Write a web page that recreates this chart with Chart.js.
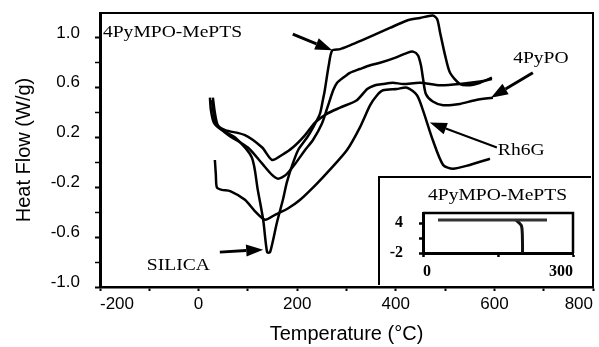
<!DOCTYPE html>
<html><head><meta charset="utf-8">
<script src="https://cdn.jsdelivr.net/npm/chart.js@4.4.1/dist/chart.umd.min.js"></script>
<style>
html,body{margin:0;padding:0;background:#fff;}
#wrap{position:relative;width:599px;height:347px;overflow:hidden;}
#main{position:absolute;left:0;top:0;}
#insetBox{position:absolute;left:378px;top:176px;width:211px;height:107px;background:#fff;border-left:2px solid #000;border-top:2px solid #000;}
#inset{position:absolute;left:0;top:0;}
</style></head>
<body>
<div id="wrap">
<canvas id="main" width="599" height="347" style="width:599px;height:347px"></canvas>
<div id="insetBox"><canvas id="inset" width="211" height="107" style="width:211px;height:107px"></canvas></div>
</div>
<script>
// ---- data (Temperature °C / Heat Flow W/g) ----
const meptsT = [23,25,31,47,74,108,120,131,139,145,159,171,179,191,202,220,232,246,252,256,264,271,287,307,331,354,388,423,449,475,484,490,500,510,530,550,571,595];
const meptsH = [0.52,0.42,0.32,0.26,0.20,0.04,-0.22,-0.46,-0.72,-0.72,-0.48,-0.30,-0.16,-0.01,0.10,0.20,0.28,0.39,0.50,0.58,0.78,0.90,0.91,0.94,0.98,1.02,1.08,1.14,1.16,1.18,1.15,1.04,0.86,0.72,0.63,0.62,0.64,0.68];
const pypoT = [29,33,39,60,100,129,149,161,177,196,216,232,250,262,273,281,293,307,327,348,368,398,423,435,445,451,455,461,475,496,530,561,597];
const pypoH = [0.52,0.40,0.30,0.22,0.12,-0.01,-0.10,-0.13,-0.10,-0.01,0.10,0.18,0.31,0.45,0.58,0.64,0.68,0.72,0.75,0.78,0.80,0.84,0.88,0.89,0.86,0.78,0.68,0.55,0.49,0.46,0.47,0.50,0.52];
const silicaT = [27,31,37,54,94,129,149,169,191,216,236,260,287,321,342,358,374,394,415,449,490,530,571,595];
const silicaH = [0.50,0.38,0.30,0.26,0.22,0.12,0.02,0.06,0.12,0.22,0.32,0.39,0.44,0.50,0.59,0.62,0.63,0.64,0.63,0.64,0.62,0.63,0.65,0.67];
const rh6gT = [33,35,37,47,64,94,114,135,155,181,206,240,266,301,327,348,362,374,402,423,443,455,475,496,516,550,591];
const rh6gH = [0.02,-0.10,-0.20,-0.22,-0.23,-0.30,-0.39,-0.46,-0.42,-0.37,-0.30,-0.17,-0.06,0.10,0.28,0.46,0.54,0.58,0.59,0.60,0.54,0.42,0.18,-0.02,-0.05,-0.02,0.03];

// inset (4PyMPO-MePTS, wide range)
const insetAT = [30,248];
const insetAH = [4.6,4.6];
const insetBT = [186,197,199,199];
const insetBH = [4.6,3.4,0,-2];

// tick labels
const xTickLabels = [-200,0,200,400,600,800];
const yTickLabels = [-1.0,-0.6,-0.2,0.2,0.6,1.0];
const insetXTickLabels = [0,300];
const insetYTickLabels = [-2,4];
const insetYTickMarks = [-2,1,4];

// annotation texts and anchors (data units)
const labelTexts = ['4PyMPO-MePTS','4PyPO','Rh6G','SILICA'];
const labelT = [-194,638,607,-105];
const labelH = [1.01,0.80,0.06,-0.86];
const arrowTailT = [191,678,605,43];
const arrowTailH = [1.03,0.72,0.12,-0.72];
const arrowTipT = [271,593,469,131];
const arrowTipH = [0.90,0.52,0.32,-0.70];
const arrowBody = [3,3,2,3];

const toPts = (T,H) => T.map((t,i)=>({x:t,y:H[i]}));
const line = (T,H,w,c) => ({data:toPts(T,H),showLine:true,borderColor:c||'#000',borderWidth:w||2.5,pointRadius:0,tension:0.25,fill:false});

function arrow(ctx,x0,y0,x1,y1,lw,hl,hw){
  const a=Math.atan2(y1-y0,x1-x0);
  const bx=x1-hl*Math.cos(a), by=y1-hl*Math.sin(a);
  ctx.lineWidth=lw; ctx.beginPath(); ctx.moveTo(x0,y0); ctx.lineTo(bx,by); ctx.stroke();
  ctx.beginPath(); ctx.moveTo(x1,y1);
  ctx.lineTo(bx+hw/2*Math.sin(a), by-hw/2*Math.cos(a));
  ctx.lineTo(bx-hw/2*Math.sin(a), by+hw/2*Math.cos(a));
  ctx.closePath(); ctx.fill();
}
function stretchText(ctx,txt,x,y,sx){
  ctx.save(); ctx.translate(x,y); ctx.scale(sx,1); ctx.fillText(txt,0,0); ctx.restore();
}

const frame = {
  id:'frame',
  afterDraw(chart,args,opts){
    const {ctx,chartArea:a}=chart;
    ctx.save(); ctx.strokeStyle='#000'; ctx.lineWidth=opts.lw||2;
    ctx.beginPath(); ctx.moveTo(a.left,a.top); ctx.lineTo(a.right,a.top); ctx.lineTo(a.right,a.bottom); ctx.stroke();
    ctx.restore();
  }
};
const notes = {
  id:'notes',
  afterDatasetsDraw(chart){
    const {ctx,scales:{x,y}}=chart;
    ctx.save(); ctx.fillStyle='#000'; ctx.strokeStyle='#000';
    ctx.font='17px "Liberation Serif", "Times New Roman", serif'; ctx.textBaseline='alphabetic'; ctx.textAlign='left';
    labelTexts.forEach((t,i)=>stretchText(ctx,t,x.getPixelForValue(labelT[i]),y.getPixelForValue(labelH[i]),1.15));
    arrowTailT.forEach((t,i)=>arrow(ctx,x.getPixelForValue(t),y.getPixelForValue(arrowTailH[i]),x.getPixelForValue(arrowTipT[i]),y.getPixelForValue(arrowTipH[i]),arrowBody[i],17,12));
    ctx.restore();
  }
};

const sansTick = {family:'"Liberation Sans", Arial, sans-serif', size:17};
const sansTitle = {family:'"Liberation Sans", Arial, sans-serif', size:20};

new Chart(document.getElementById('main'),{
  type:'scatter',
  data:{datasets:[line(meptsT,meptsH),line(pypoT,pypoH),line(silicaT,silicaH),line(rh6gT,rh6gH)]},
  options:{
    responsive:false, animation:false, devicePixelRatio:1,
    layout:{padding:{left:0,right:6,top:13,bottom:0}},
    plugins:{legend:{display:false},tooltip:{enabled:false},frame:{lw:2}},
    scales:{
      x:{type:'linear',min:-200,max:800,
        afterFit(s){s.height=60;s.paddingLeft=0;s.paddingRight=0;},
        ticks:{stepSize:100,autoSkip:false,maxRotation:0,align:'inner',padding:3,font:sansTick,color:'#000',
          callback:v=>xTickLabels.includes(v)?String(v):''},
        grid:{drawOnChartArea:false,drawTicks:true,tickLength:4,tickColor:'#000',tickWidth:2},
        border:{display:true,color:'#000',width:2.5},
        title:{display:true,text:'Temperature (°C)',font:sansTitle,color:'#000',padding:{top:0,bottom:1}}},
      y:{type:'linear',min:-1,max:1.2,
        afterFit(s){s.width=100;s.paddingTop=0;s.paddingBottom=0;},
        ticks:{stepSize:0.2,autoSkip:false,padding:15,labelOffset:-5,font:sansTick,color:'#000',
          callback:v=>{const r=Math.round(v*10)/10;return yTickLabels.includes(r)?r.toFixed(1):'';}},
        grid:{drawOnChartArea:false,drawTicks:true,tickLength:5,
          tickColor:c=>Math.round(c.tick.value*10)/10>1.1?'rgba(0,0,0,0)':'#000',
          tickWidth:c=>yTickLabels.includes(Math.round(c.tick.value*10)/10)?2:1.5},
        border:{display:true,color:'#000',width:3},
        title:{display:true,text:'Heat Flow (W/g)',font:sansTitle,color:'#000',padding:{top:12,bottom:0}}}
    }
  },
  plugins:[frame,notes]
});

const insetNotes = {
  id:'insetNotes',
  afterDraw(chart){
    const {ctx,chartArea:a}=chart;
    ctx.save(); ctx.strokeStyle='#000'; ctx.lineWidth=2.5;
    ctx.beginPath(); ctx.moveTo(a.left,a.top); ctx.lineTo(a.right,a.top); ctx.lineTo(a.right,a.bottom); ctx.stroke();
    ctx.fillStyle='#000'; ctx.font='17px "Liberation Serif", "Times New Roman", serif'; ctx.textAlign='left'; ctx.textBaseline='alphabetic';
    stretchText(ctx,'4PyMPO-MePTS',a.left+5,a.top-13,1.15);
    ctx.restore();
  }
};
const serifTick = {family:'"Liberation Serif", "Times New Roman", serif', size:16, weight:'bold'};
new Chart(document.getElementById('inset'),{
  type:'scatter',
  data:{datasets:[line(insetAT,insetAH,3,'#333'),line(insetBT,insetBH,3,'#111')]},
  options:{
    responsive:false, animation:false, devicePixelRatio:1,
    layout:{padding:{left:0,right:18,top:35,bottom:0}},
    plugins:{legend:{display:false},tooltip:{enabled:false}},
    scales:{
      x:{type:'linear',min:0,max:300,
        afterFit(s){s.height=32;s.paddingLeft=0;s.paddingRight=0;},
        ticks:{stepSize:150,autoSkip:false,maxRotation:0,align:'inner',padding:5,font:serifTick,color:'#000',
          callback:v=>insetXTickLabels.includes(v)?String(v):''},
        grid:{drawOnChartArea:false,drawTicks:true,tickLength:4,tickColor:'#000',tickWidth:2.5},
        border:{display:true,color:'#000',width:3}},
      y:{type:'linear',min:-2,max:6,
        afterFit(s){s.width=43;s.paddingTop=0;s.paddingBottom=0;},
        ticks:{stepSize:1,autoSkip:false,padding:16,font:serifTick,color:'#000',
          callback:v=>insetYTickLabels.includes(v)?String(v):''},
        grid:{drawOnChartArea:false,drawTicks:true,tickLength:4,
          tickColor:c=>insetYTickMarks.includes(c.tick.value)?'#000':'rgba(0,0,0,0)',tickWidth:2.5},
        border:{display:true,color:'#000',width:3}}
    }
  },
  plugins:[insetNotes]
});
</script>
</body></html>
